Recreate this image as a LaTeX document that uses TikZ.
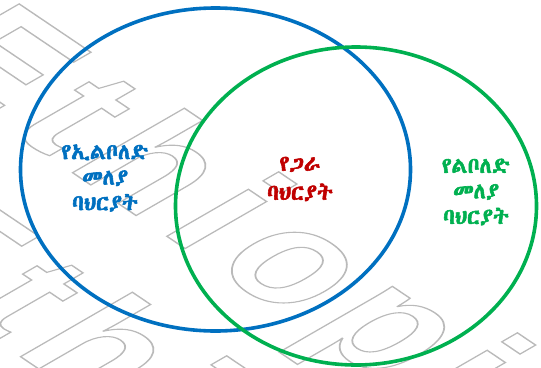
\documentclass[tikz,border=0pt]{standalone}
\usepackage{fontspec}
\newfontfamily\ethfont[FakeBold=2.6]{Abyssinica SIL}
\newfontfamily\wmfont{Liberation Sans}
\definecolor{vblue}{HTML}{0070C0}
\definecolor{vgreen}{HTML}{00B050}
\definecolor{vred}{HTML}{C00000}
\newcommand{\outlinetext}[1]{\special{pdf:literal direct 1 Tr 1.4 w}#1\special{pdf:literal direct 0 Tr}}
\newcommand{\wmword}{E\kern16pt t\kern16pt h\kern16pt i\kern16pt o\kern16pt p\kern16pt i\kern16pt a}
\tikzset{
  lbl/.style={font=\ethfont\fontsize{22}{25.5}\selectfont, align=center, inner sep=0pt},
  wmark/.style={cm={0.829,-0.559,0.964,0.556,(0,0)}, anchor=base west, inner sep=0pt, text=black!27,
    font=\wmfont\bfseries\fontsize{160}{160}\selectfont},
  ring/.style={line width=3.6pt}
}
\begin{document}
\begin{tikzpicture}[x=1pt,y=-1pt]
\useasboundingbox (0,0) rectangle (541,367);
\begin{scope}
  \clip (0,0) rectangle (541,367);
  \node[wmark] (wm1) at (-96,59) {\outlinetext{\wmword}};
  \node[wmark] (wm2) at (-148,243) {\outlinetext{\wmword}};
\end{scope}
\draw[ring, vblue] (215.5,169.5) ellipse [x radius=195, y radius=161.5];
\draw[ring, vgreen] (356,206) ellipse [x radius=180.5, y radius=159];
\node[lbl, text=vblue] (nonfic) at (105,178) {የኢልቦለድ\\መለያ\\ባህርያት};
\node[lbl, text=vred, font=\ethfont\fontsize{22}{29}\selectfont] (common) at (300,179) {የጋራ\\ባህርያት};
\node[lbl, text=vgreen] (fic) at (476,192) {የልቦለድ\\መለያ\\ባህርያት};
\end{tikzpicture}
\end{document}
